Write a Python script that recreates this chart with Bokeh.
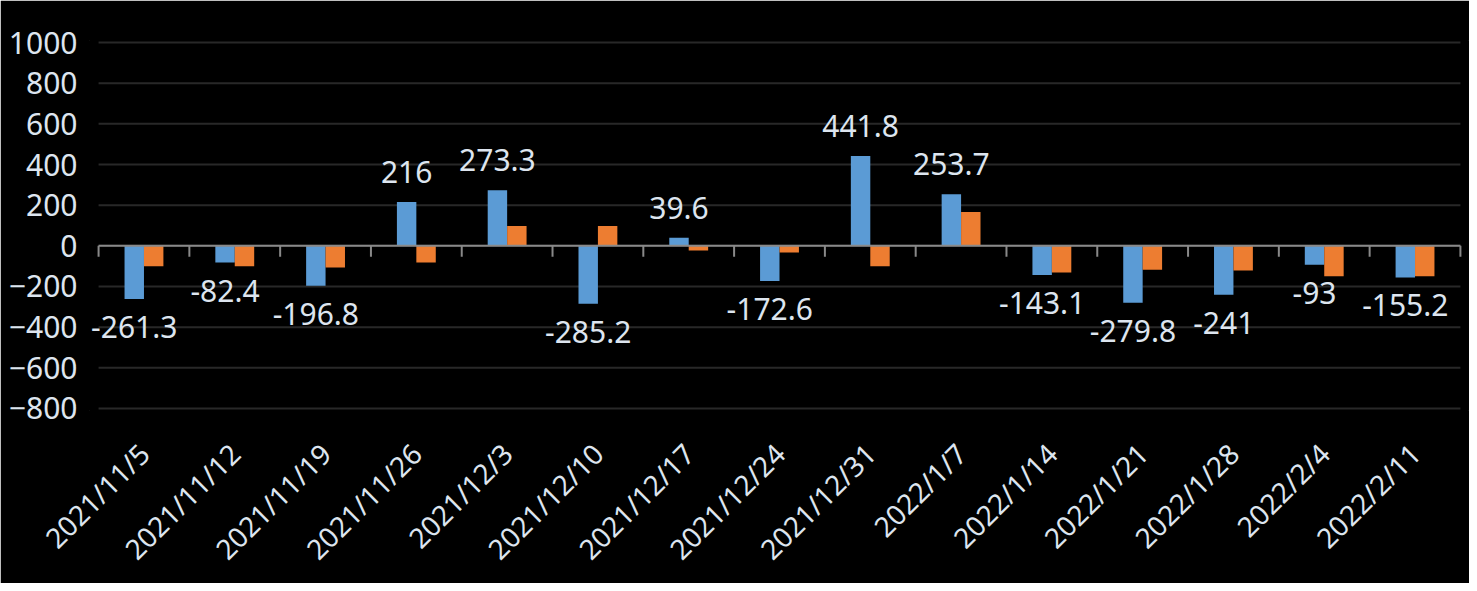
import math
from bokeh.plotting import figure
from bokeh.models import ColumnDataSource, Range1d, FactorRange, LabelSet
from bokeh.transform import dodge
from bokeh.core.properties import value
from bokeh.embed import file_html
from bokeh.resources import INLINE

categories = ["2021/11/5", "2021/11/12", "2021/11/19", "2021/11/26", "2021/12/3",
              "2021/12/10", "2021/12/17", "2021/12/24", "2021/12/31", "2022/1/7",
              "2022/1/14", "2022/1/21", "2022/1/28", "2022/2/4", "2022/2/11"]
blue_values = [-261.3, -82.4, -196.8, 216, 273.3, -285.2, 39.6, -172.6, 441.8, 253.7,
               -143.1, -279.8, -241, -93, -155.2]
orange_values = [-100, -100, -106, -82, 98, 98, -23, -33, -101, 167,
                 -131, -118, -121, -150, -150]
y_ticks = [-800, -600, -400, -200, 0, 200, 400, 600, 800, 1000]

FONT = "Noto Sans"
TEXT_COLOR = "#DDE5EF"
BLUE = "#5B9BD5"
ORANGE = "#ED7D31"
AXIS_GRAY = "#898989"
GRID = "#282828"

src = ColumnDataSource(dict(cat=categories, blue=blue_values, orange=orange_values))

pos = [(c, v) for c, v in zip(categories, blue_values) if v >= 0]
neg = [(c, v) for c, v in zip(categories, blue_values) if v < 0]
pos_src = ColumnDataSource(dict(cat=[c for c, _ in pos], v=[v for _, v in pos],
                                label=[f"{v:g}" for _, v in pos]))
neg_src = ColumnDataSource(dict(cat=[c for c, _ in neg], v=[v for _, v in neg],
                                label=[f"{v:g}" for _, v in neg]))
grid_src = ColumnDataSource(dict(y=y_ticks, first=[categories[0]] * len(y_ticks),
                                 last=[categories[-1]] * len(y_ticks)))
zero_src = ColumnDataSource(dict(y=[0], first=[categories[0]], last=[categories[-1]]))

xr = FactorRange(factors=categories, range_padding=0.1, range_padding_units="absolute")
p = figure(width=1469, height=583, x_range=xr,
           y_range=Range1d(y_ticks[0] - 10, y_ticks[-1] + 10),
           output_backend="svg", toolbar_location=None,
           background_fill_color="black", border_fill_color="black",
           min_border_left=89, min_border_right=0, min_border_top=40, min_border_bottom=172)
p.outline_line_color = "black"
p.outline_line_width = 1

# horizontal gridlines spanning the category area
p.segment(x0=dodge("first", -0.5, range=xr), x1=dodge("last", 0.5, range=xr),
          y0="y", y1="y", source=grid_src, line_color=GRID, line_width=2)

p.vbar(x=dodge("cat", -0.107, range=xr), top="blue", bottom=0, width=0.214,
       source=src, fill_color=BLUE, line_color=None)
p.vbar(x=dodge("cat", 0.107, range=xr), top="orange", bottom=0, width=0.214,
       source=src, fill_color=ORANGE, line_color=None)

# zero line and category tick marks
p.segment(x0=dodge("first", -0.5, range=xr), x1=dodge("last", 0.5, range=xr),
          y0="y", y1="y", source=zero_src, line_color=AXIS_GRAY, line_width=2)
p.segment(x0=dodge("cat", -0.5, range=xr), x1=dodge("cat", -0.5, range=xr),
          y0=0, y1=-54, source=src, line_color=AXIS_GRAY, line_width=2)
last = ColumnDataSource(dict(cat=[categories[-1]]))
p.segment(x0=dodge("cat", 0.5, range=xr), x1=dodge("cat", 0.5, range=xr),
          y0=0, y1=-54, source=last, line_color=AXIS_GRAY, line_width=2)

for s, base, off in ((pos_src, "bottom", 19), (neg_src, "top", -17)):
    p.add_layout(LabelSet(x=dodge("cat", -0.107, range=xr), y="v", text="label",
                          source=s, text_align="center", text_baseline=base, y_offset=off,
                          text_font=value(FONT), text_font_size="30px",
                          text_color=TEXT_COLOR))

p.xgrid.grid_line_color = None
p.ygrid.grid_line_color = None
p.yaxis.ticker = y_ticks
p.yaxis.axis_line_color = None
p.yaxis.major_tick_line_color = None
p.yaxis.minor_tick_line_color = None
p.yaxis.major_label_standoff = 6
p.yaxis.major_label_text_font = FONT
p.yaxis.major_label_text_font_size = "30px"
p.yaxis.major_label_text_color = TEXT_COLOR

p.xaxis.axis_line_color = None
p.xaxis.major_tick_line_color = None
p.xaxis.minor_tick_line_color = None
p.xaxis.major_label_orientation = math.pi / 4
p.xaxis.major_label_standoff = 32
p.xaxis.major_label_text_font = FONT
p.xaxis.major_label_text_font_size = "28px"
p.xaxis.major_label_text_color = TEXT_COLOR

html = file_html(p, INLINE)
html = html.replace("<body>", '<body style="background-color:black;">', 1)
open("out.html", "w").write(html)
